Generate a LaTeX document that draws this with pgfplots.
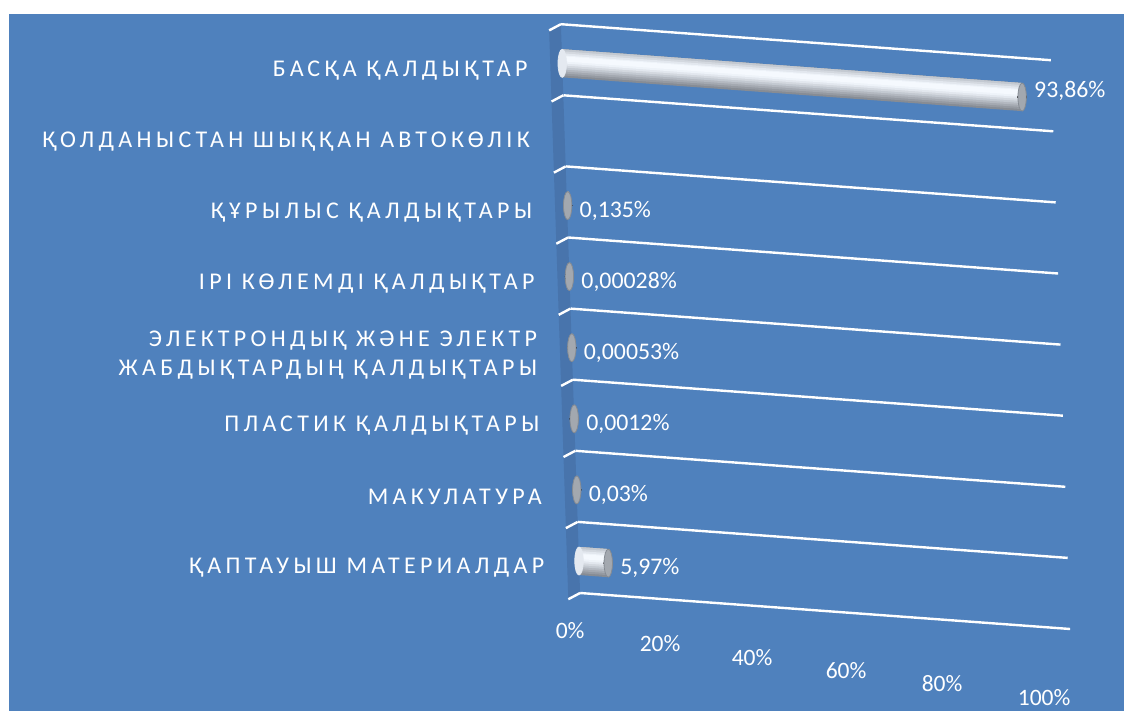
\documentclass[border=0pt]{standalone}
\usepackage{pgfplots}
\pgfplotsset{compat=1.18}
\usepackage{pgfplotstable}
\usepackage{fontspec}
\setmainfont{Carlito}
\newfontfamily\lblfont[LetterSpace=18]{Carlito}
\definecolor{bg}{HTML}{4F81BD}
\definecolor{wall}{HTML}{4874AC}
% cylinder shading layers (nested, outermost first)
\definecolor{l1}{HTML}{878C94}
\definecolor{l2}{HTML}{959AA2}
\definecolor{l3}{HTML}{A4A9B1}
\definecolor{l4}{HTML}{B3B8C0}
\definecolor{l5}{HTML}{C3C9D1}
\definecolor{l6}{HTML}{D3D8DF}
\definecolor{l7}{HTML}{E2E7EE}
\definecolor{l8}{HTML}{EEF3F9}
\definecolor{l9}{HTML}{F5F9FE}
\definecolor{capgray}{HTML}{A3A8AF}
\definecolor{capedge}{HTML}{858B93}
\definecolor{leftcap}{HTML}{E4E9F0}

% c = category index, v = value in %, lab = label text, dy = label offset (pt)
\pgfplotstableread{
c v lab dy
0 5.97 5,97 -2.5
1 0.03 0,03 -2.5
2 0.0012 0,0012 -2.5
3 0.00053 0,00053 -2.5
4 0.00028 0,00028 -2.5
5 0.135 0,135 -2.5
7 93.86 93,86 3
}\data

\pgfplotsset{body/.style n args={3}{only marks, mark=none, forget plot,
  error bars/.cd, x dir=minus, x explicit, error mark=none,
  error bar style={line width=#1, color=#2, line cap=butt, yshift=#3}}}

\begin{document}
\begin{tikzpicture}
\useasboundingbox (0,0) rectangle (562pt,-355.5pt);
\fill[white] (0,0) rectangle (562pt,-355.5pt);
\fill[bg] (4.5pt,-7pt) rectangle (562pt,-355.5pt);
\begin{axis}[
  x={(2.45pt,-0.18pt)}, y={(-1.2pt,35.55pt)},
  anchor=origin, at={(289.5pt,-280.5pt)},
  xmin=0, xmax=100, ymin=-0.46, ymax=7.56,
  clip=false,
  axis line style={draw=none},
  major tick length=0pt, minor tick length=0pt,
  tick style={draw=none},
  ytick={0,1,2,3,4,5,6,7},
  yticklabels={{ҚАПТАУЫШ МАТЕРИАЛДАР},{МАКУЛАТУРА},{ПЛАСТИК ҚАЛДЫҚТАРЫ},
    {ЭЛЕКТРОНДЫҚ ЖӘНЕ ЭЛЕКТР\\ЖАБДЫҚТАРДЫҢ ҚАЛДЫҚТАРЫ},{ІРІ КӨЛЕМДІ ҚАЛДЫҚТАР},
    {ҚҰРЫЛЫС ҚАЛДЫҚТАРЫ},{ҚОЛДАНЫСТАН ШЫҚҚАН АВТОКӨЛІК},{БАСҚА ҚАЛДЫҚТАР}},
  yticklabel style={anchor=east, align=right, font=\lblfont\fontsize{12}{14.5}\selectfont,
    text=white, xshift=-13.9pt, yshift=-3.5pt},
  minor ytick={-0.45,0.55,1.55,2.55,3.55,4.55,5.55,6.55,7.55},
  yminorgrids=true,
  minor y grid style={white, line width=1.2pt},
  xtick={0,20,40,60,80,100},
  xticklabels={0\%,
    \raisebox{-2.9pt}{\makebox[0pt]{\hspace*{-8pt}20\%}},
    \raisebox{-6.3pt}{\makebox[0pt]{\hspace*{-14pt}40\%}},
    \raisebox{-9.2pt}{\makebox[0pt]{\hspace*{-18pt}60\%}},
    \raisebox{-12.1pt}{\makebox[0pt]{\hspace*{-20pt}80\%}},
    \raisebox{-15.5pt}{\makebox[0pt]{\hspace*{-16pt}100\%}}},
  xticklabel style={anchor=base, font=\fontsize{11.75}{14}\selectfont, text=white,
    xshift=-5pt, yshift=-22.25pt},
]
% side wall
\addplot[fill=wall, draw=none, forget plot] coordinates {(0,-0.45) (-2.45,-0.55) (-2.45,7.45) (0,7.55)} -- cycle;
% wall stubs of the gridlines
\addplot[white, line width=1.2pt, forget plot, quiver={u=-2.45, v=-0.1}]
  coordinates {(0,-0.45) (0,0.55) (0,1.55) (0,2.55) (0,3.55) (0,4.55) (0,5.55) (0,6.55) (0,7.55)};
% left caps of the cylinders
\addplot[only marks, mark=*, mark size=7pt, forget plot, color=leftcap,
  mark options={xscale=0.3, fill=leftcap, draw=leftcap}] coordinates {(0,0) (0,7)};
% cylinder bodies: nested shaded layers, each drawn from the data table
\addplot[body={14pt}{l1}{0pt}]    table[x=v, y=c, x error=v] {\data};
\addplot[body={13pt}{l2}{0.5pt}]  table[x=v, y=c, x error=v] {\data};
\addplot[body={12pt}{l3}{1pt}]    table[x=v, y=c, x error=v] {\data};
\addplot[body={11pt}{l4}{1.5pt}]  table[x=v, y=c, x error=v] {\data};
\addplot[body={10pt}{l5}{2pt}]    table[x=v, y=c, x error=v] {\data};
\addplot[body={8pt}{l6}{2pt}]     table[x=v, y=c, x error=v] {\data};
\addplot[body={6pt}{l7}{2pt}]     table[x=v, y=c, x error=v] {\data};
\addplot[body={4pt}{l8}{2pt}]     table[x=v, y=c, x error=v] {\data};
\addplot[body={2.5pt}{l9}{2.25pt}] table[x=v, y=c, x error=v] {\data};
% end caps and value labels
\addplot[only marks, mark=*, mark size=7pt, forget plot, color=capgray,
  mark options={xscale=0.3, fill=capgray, draw=capedge, line width=0.4pt},
  point meta=explicit symbolic,
  visualization depends on={\thisrow{dy} \as \labdy},
  nodes near coords={\pgfplotspointmeta\%},
  every node near coord/.append style={anchor=west, text=white,
    font=\fontsize{11.9}{14}\selectfont, xshift=2.5pt, yshift=\labdy pt}]
  table[x=v, y=c, meta=lab] {\data};
\end{axis}
\end{tikzpicture}
\end{document}
